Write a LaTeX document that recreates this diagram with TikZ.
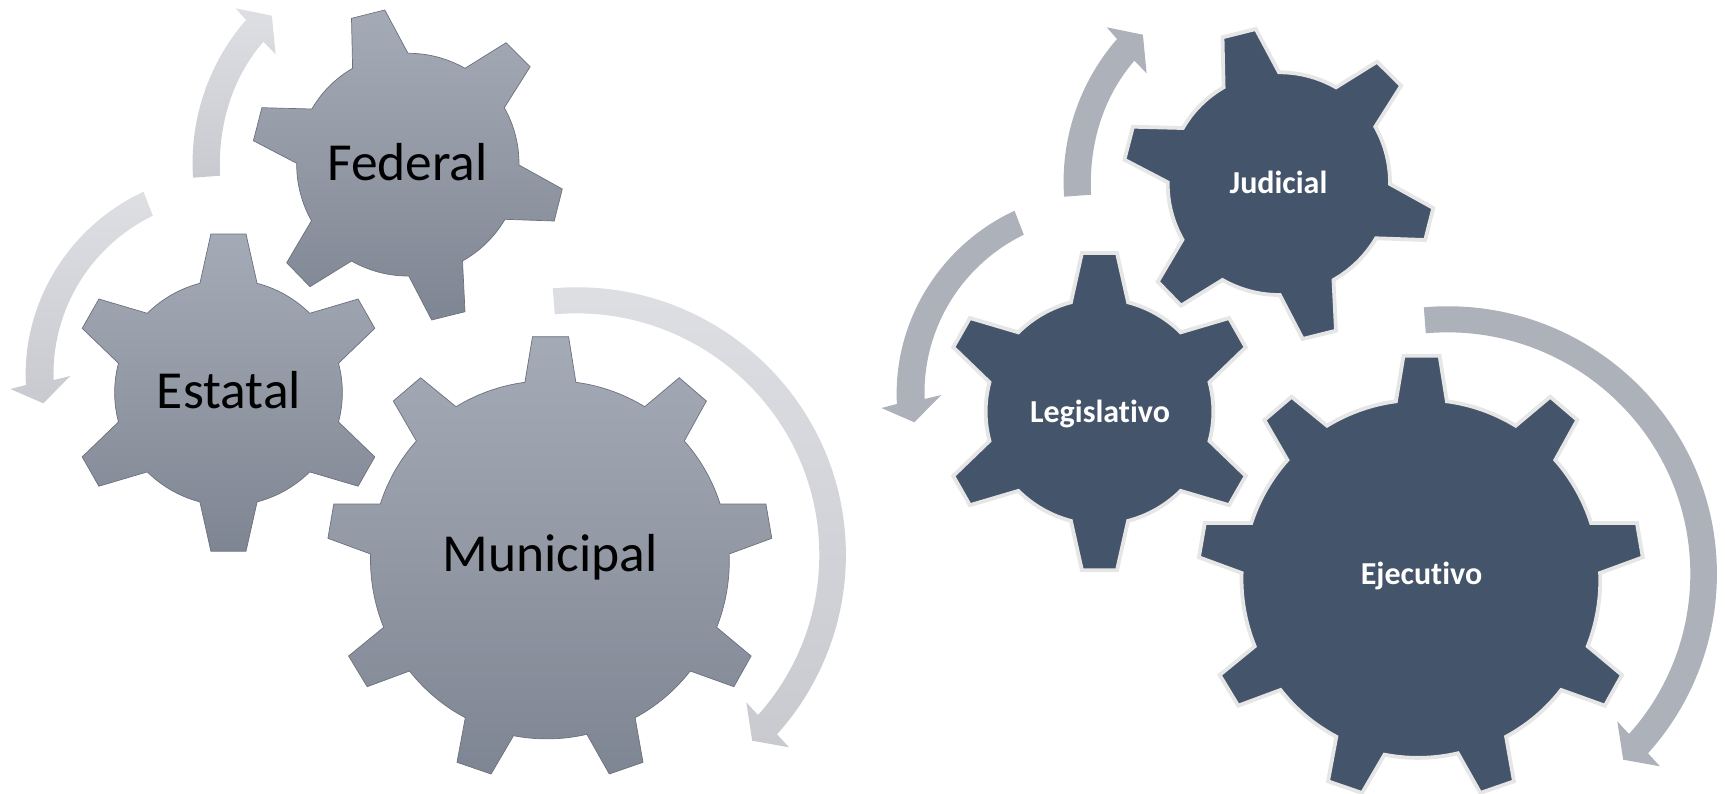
\documentclass[tikz,border=0pt]{standalone}
\usepackage{fontspec}
\setmainfont[Ligatures=NoCommon]{Carlito}

\definecolor{geartop}{HTML}{A5ABB6}
\definecolor{gearbot}{HTML}{7F8693}
\definecolor{gearline}{HTML}{6B717C}
\definecolor{arrowtop}{HTML}{DDDFE3}
\definecolor{arrowbot}{HTML}{C8CAD0}
\definecolor{gearblue}{HTML}{44546A}
\definecolor{gearedge}{HTML}{E7E6E6}
\definecolor{arrowflat}{HTML}{ADB1B9}

\tikzset{
  gearleft/.style={draw=gearline, line width=0.7pt, top color=geartop, bottom color=gearbot},
  gearright/.style={draw=gearedge, line width=3.8pt, fill=gearblue},
  arrowleft/.style={top color=arrowtop, bottom color=arrowbot},
  arrowright/.style={fill=arrowflat},
  biglabel/.style={anchor=base, text=black, font=\fontsize{53.5}{54}\selectfont},
  smalllabel/.style={anchor=base, text=white, font=\fontsize{32}{33}\selectfont\bfseries},
  rim/.style={bend left=15, looseness=.87},
  rimwide/.style={bend left=12, looseness=.86},
}

% Gear outlines
\def\pathfederal{(351.5,18.3) -- (384.8,10) -- (408,53.3) to[rim] (465,68.3) -- (506.1,42.7) -- (530.2,66.7) -- (504.3,107.7) to[rim] (519,165) -- (562.3,189) -- (554.2,221) -- (505,219.3) to[rim] (462.5,261) -- (465,311.7) -- (431.7,320) -- (408.8,276) to[rim] (351.5,261) -- (310,286.7) -- (286.7,262.7) -- (311.5,220.7) to[rim] (296.7,163.3) -- (253.4,140.7) -- (261.9,107.7) -- (311.9,109) to[rim] (352.6,68.3) -- cycle}
\def\pathestatal{(210.9,234) -- (246,234) -- (257.1,283.3) to[rim] (309.7,313.3) -- (358.1,299) -- (374.8,328.3) -- (338.5,363.3) to[rim] (338.5,421.9) -- (374.8,456.9) -- (358.1,486.2) -- (309.7,471.9) to[rim] (257.1,501.9) -- (246,551.2) -- (210.9,551.2) -- (199.9,501.9) to[rim] (147.3,471.9) -- (98.9,486.2) -- (82.2,456.9) -- (118.5,421.9) to[rim] (118.5,363.3) -- (82.2,328.3) -- (98.9,299) -- (147.3,313.3) to[rim] (199.9,283.3) -- cycle}
\def\pathmunicipal{(532.5,336.7) -- (568.6,336.7) -- (575.9,382.3) to[rimwide] (644.7,406.7) -- (679.2,377.7) -- (706.4,401) -- (684.3,441) to[rimwide] (720.1,504) -- (765.9,504) -- (771.8,538.3) -- (729.1,554) to[rimwide] (716.7,627.3) -- (751.1,656) -- (733.9,686.7) -- (690.2,671) to[rimwide] (635.1,717.7) -- (643,762.3) -- (609.3,774) -- (586.9,734.3) to[rimwide] (513.5,735.7) -- (491.1,774) -- (457,762.3) -- (465.3,717.7) to[rimwide] (409.5,671) -- (367.2,686.7) -- (348.6,656) -- (383.7,627.3) to[rimwide] (370.6,554) -- (327.9,538.3) -- (333.8,504) -- (380.3,504) to[rimwide] (416.4,441) -- (393.3,401) -- (420.6,377.7) -- (456,406.7) to[rimwide] (524.9,382.3) -- cycle}

% Block arrows
\def\pathup{(193.1,177.7) to[out=94,in=229,looseness=.885] (246,20) -- (235.7,8.3) -- (271.9,15.7) -- (275.6,54.3) -- (263.4,41.7) to[out=229,in=93,looseness=.885] (220.1,175.7) -- cycle}
\def\pathdown{(143.5,191.7) to[out=205,in=93,looseness=.93] (25.9,385) -- (10.4,389) -- (43.3,403.3) -- (70.3,376) -- (53.6,380) to[out=92,in=206,looseness=.93] (152.8,215.7) -- cycle}
\def\pathround{(552.8,288.3) to[out=5,in=90,looseness=1.02] (845.9,555) to[out=-90,in=48,looseness=.88] (777,734.3) -- (789,747.3) -- (752.2,740.7) -- (746.3,702.3) -- (758,715) to[out=48,in=-90,looseness=.88] (819.3,555) to[out=90,in=5,looseness=1.02] (554.8,314.3) -- cycle}

\begin{document}
\begin{tikzpicture}[x=1pt,y=-1pt]
\useasboundingbox (0,0) rectangle (1725,793);

% Left group
\path[arrowleft] \pathup;
\path[arrowleft] \pathdown;
\path[arrowleft] \pathround;
\path[gearleft] \pathfederal;
\path[gearleft] \pathestatal;
\path[gearleft] \pathmunicipal;
\node[biglabel] (federal) at (407.5,180.5) {Federal};
\node[biglabel] (estatal) at (229,408) {Estatal};
\node[biglabel] (municipal) at (550,571.5) {Municipal};

% Right group
\begin{scope}[shift={(871,19)}]
\path[arrowright] \pathup;
\path[arrowright] \pathdown;
\path[arrowright] \pathround;
\path[gearright] \pathfederal;
\path[gearright] \pathestatal;
\path[gearright] \pathmunicipal;
\end{scope}
\node[smalllabel] (judicial) at (1278.5,193) {Judicial};
\node[smalllabel] (legislativo) at (1100,422) {Legislativo};
\node[smalllabel] (ejecutivo) at (1421.5,584) {Ejecutivo};

\end{tikzpicture}
\end{document}
